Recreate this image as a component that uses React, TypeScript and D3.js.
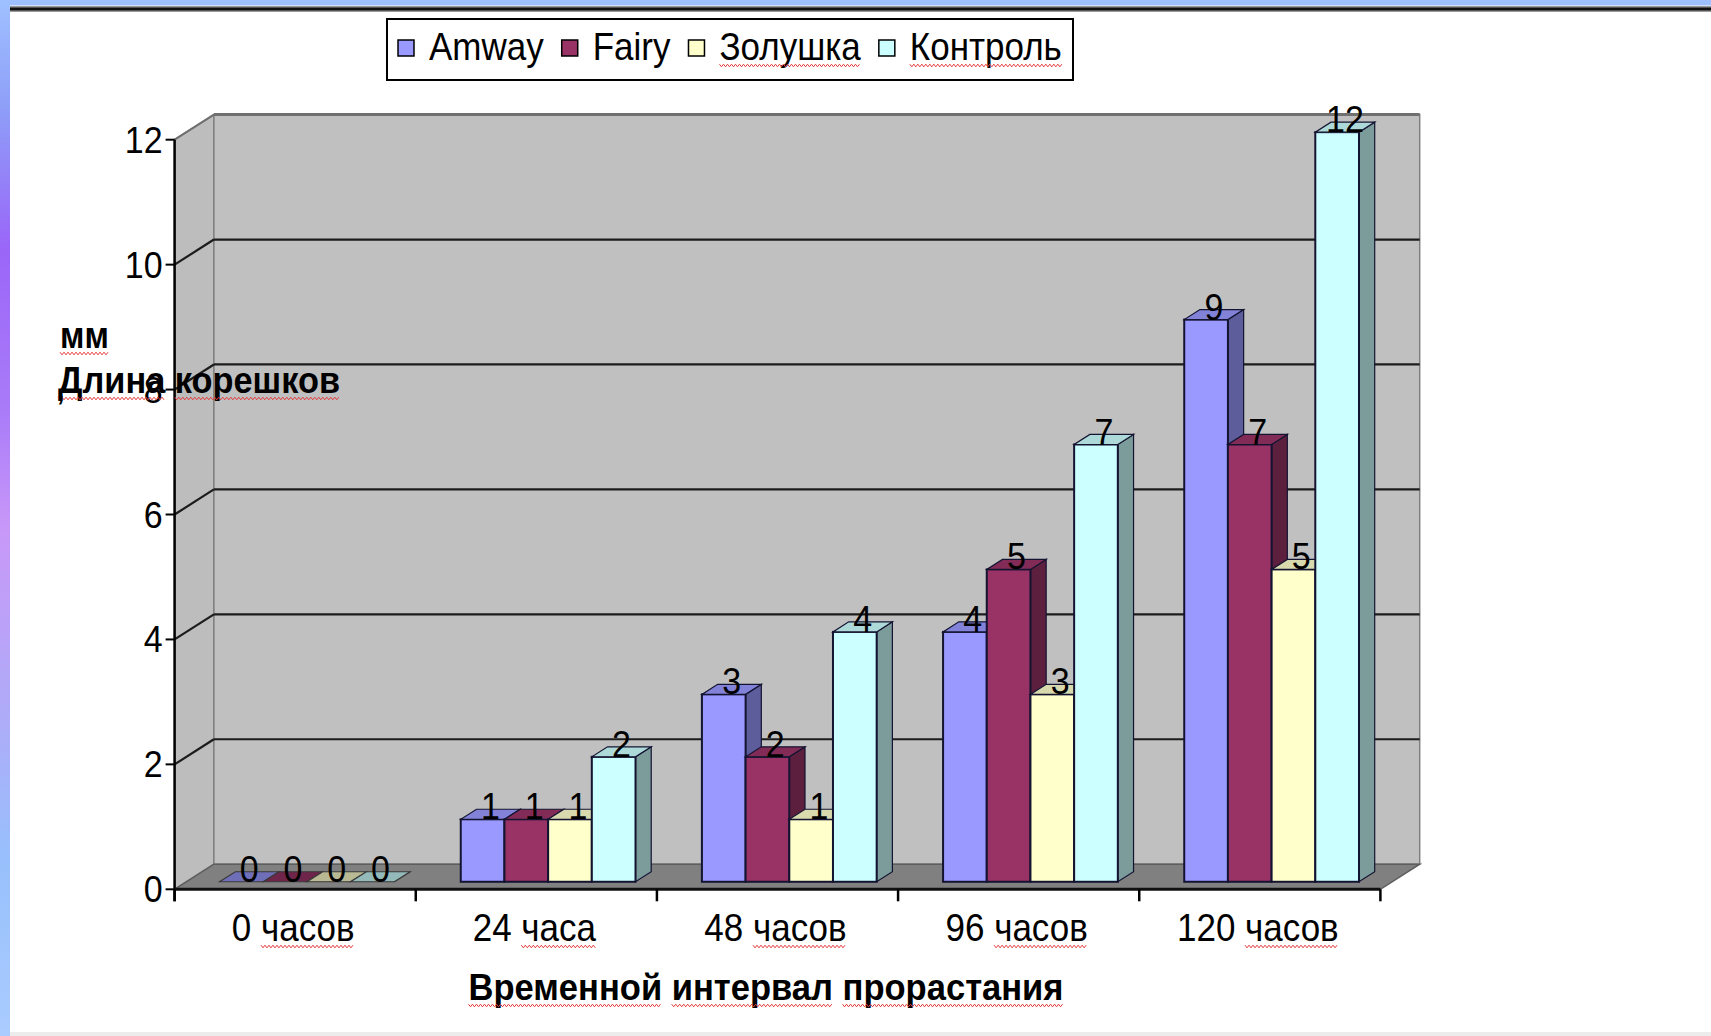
import React, { useEffect, useRef } from 'react';
import * as d3 from 'd3';

// chart values
const categories = ['0 часов', '24 часа', '48 часов', '96 часов', '120 часов'];
const seriesNames = ['Amway', 'Fairy', 'Золушка', 'Контроль'];
const amway = [0, 1, 3, 4, 9];
const fairy = [0, 1, 2, 5, 7];
const zolushka = [0, 1, 1, 3, 5];
const kontrol = [0, 2, 4, 7, 12];
const yTicks = [0, 2, 4, 6, 8, 10, 12];
const seriesColors = ['#9999ff', '#993366', '#ffffcc', '#ccffff'];

const xTitle = 'Временной интервал прорастания';
const yTitleTop = 'мм';
const yTitle = 'Длина корешков';

const W = 1711,
  H = 1036;
const FONT = '"Liberation Sans", Arial, sans-serif';
const SY = 1.1; // text in the picture is a bit taller than Arial

export default function App() {
  const ref = useRef(null);
  useEffect(() => {
    if (ref.current) drawChart(ref.current);
  }, []);
  return (
    <svg
      ref={ref}
      width={W}
      height={H}
      style={{ position: 'absolute', left: 0, top: 0, background: '#fff' }}
    />
  );
}

const squiggle = (g, xa, xb, yy) => {
  const pts = [];
  for (let xx = xa, i = 0; xx <= xb; xx += 2, i++) pts.push([xx, yy + (i % 2 ? 1.3 : -1.3)]);
  g.append('path')
    .attr('d', d3.line()(pts))
    .attr('fill', 'none')
    .attr('stroke', '#e53a3a')
    .attr('stroke-width', 1);
};

const addText = (g, str, x, y, opts: any = {}) => {
  const t = g
    .append('text')
    .attr('transform', `translate(${x},${y}) scale(1,${SY})`)
    .attr('font-family', FONT)
    .attr('font-size', opts.size ?? 34)
    .attr('text-anchor', opts.anchor ?? 'start')
    .attr('fill', '#000')
    .text(str);
  if (opts.weight) t.attr('font-weight', opts.weight);
  if (opts.len) t.attr('textLength', opts.len).attr('lengthAdjust', 'spacingAndGlyphs');
  return t;
};

// red spell-check wave under some words
const underline = (g, t, x, y, words) => {
  const n = t.node();
  const s = n.textContent;
  words.forEach(w => {
    const i = s.indexOf(w);
    if (i < 0) return;
    const xa = x + n.getStartPositionOfChar(i).x;
    const xb = x + n.getEndPositionOfChar(i + w.length - 1).x;
    squiggle(g, xa, xb, y + 5 * SY);
  });
};

const drawChart = node => {
  const svg = d3.select(node);
  svg.selectAll('*').remove();
  const values = [amway, fairy, zolushka, kontrol];

  // page decoration (slide frame)
  const defs = svg.append('defs');
  const grad = defs
    .append('linearGradient')
    .attr('id', 'leftStrip')
    .attr('x1', 0)
    .attr('x2', 0)
    .attr('y1', 0)
    .attr('y2', 1);
  [
    [0, '#a0c0ff'],
    [0.1, '#8ea0f8'],
    [0.24, '#9a66f8'],
    [0.4, '#aa7cf8'],
    [0.51, '#c898f8'],
    [0.68, '#b0aaf8'],
    [0.83, '#98c0fc'],
    [1, '#aaccff']
  ].forEach(([o, c]) => grad.append('stop').attr('offset', o).attr('stop-color', c));
  svg.append('rect').attr('x', 0).attr('y', 0).attr('width', 10).attr('height', H).attr('fill', 'url(#leftStrip)');
  svg.append('rect').attr('x', 0).attr('y', 0).attr('width', W).attr('height', 5.5).attr('fill', '#9ec0ff');
  svg.append('rect').attr('x', 10).attr('y', 6).attr('width', W - 10).attr('height', 6).attr('fill', '#9a9a9a');
  svg.append('rect').attr('x', 10).attr('y', 7.5).attr('width', W - 10).attr('height', 3).attr('fill', '#111');
  svg.append('rect').attr('x', 10).attr('y', 1032).attr('width', W - 10).attr('height', 4).attr('fill', '#ececec');

  // plot geometry
  const left = 174.6,
    right = 1380.4;
  const DX = 39.3,
    DY = 25.1; // depth of the 3d box
  const zF = 0.3,
    zB = 0.7; // bar front / back as fraction of depth

  const xCat = d3.scaleBand().domain(categories).range([left, right]);
  const xSer = d3
    .scaleBand()
    .domain(seriesNames)
    .range([0, xCat.bandwidth()])
    .paddingOuter(0.76);
  const y = d3.scaleLinear().domain([0, 12]).range([889.3, 139.7]);
  const yBase = y(0),
    yTop = y(12);

  const g = svg.append('g');

  // left wall
  g.append('polygon')
    .attr('points', [[left, yBase], [left, yTop], [left + DX, yTop - DY], [left + DX, yBase - DY]].join(' '))
    .attr('fill', '#bdbdbd')
    .attr('stroke', '#808080')
    .attr('stroke-width', 1.5);
  // back wall
  g.append('rect')
    .attr('x', left + DX)
    .attr('y', yTop - DY)
    .attr('width', right - left)
    .attr('height', yBase - yTop)
    .attr('fill', '#c0c0c0')
    .attr('stroke', '#808080')
    .attr('stroke-width', 1.5);
  // floor
  g.append('polygon')
    .attr('points', [[left, yBase], [right, yBase], [right + DX, yBase - DY], [left + DX, yBase - DY]].join(' '))
    .attr('fill', '#808080')
    .attr('stroke', '#5e5e5e')
    .attr('stroke-width', 1.5);

  // gridlines
  yTicks
    .filter(t => t > 0)
    .forEach(t => {
      const top = t === 12;
      const col = top ? '#707070' : '#1c1c1c';
      const sw = top ? 3 : 2.2;
      g.append('line')
        .attr('x1', left + DX)
        .attr('x2', right + DX)
        .attr('y1', y(t) - DY)
        .attr('y2', y(t) - DY)
        .attr('stroke', col)
        .attr('stroke-width', sw);
      g.append('line')
        .attr('x1', left)
        .attr('x2', left + DX)
        .attr('y1', y(t))
        .attr('y2', y(t) - DY)
        .attr('stroke', col)
        .attr('stroke-width', top ? 2 : sw);
    });

  // axes
  g.append('line')
    .attr('x1', left)
    .attr('x2', left)
    .attr('y1', yTop)
    .attr('y2', yBase + 12)
    .attr('stroke', '#000')
    .attr('stroke-width', 2.5);
  yTicks.forEach(t => {
    g.append('line')
      .attr('x1', left - 9)
      .attr('x2', left)
      .attr('y1', y(t))
      .attr('y2', y(t))
      .attr('stroke', '#000')
      .attr('stroke-width', 2);
    addText(g, String(t), left - 12, y(t) + 13, { anchor: 'end' });
  });
  g.append('line')
    .attr('x1', left)
    .attr('x2', right)
    .attr('y1', yBase)
    .attr('y2', yBase)
    .attr('stroke', '#111')
    .attr('stroke-width', 3);
  categories.forEach((c, i) => {
    const xs = xCat(c);
    g.append('line')
      .attr('x1', xs)
      .attr('x2', xs)
      .attr('y1', yBase)
      .attr('y2', yBase + 12)
      .attr('stroke', '#000')
      .attr('stroke-width', 2.5);
    if (i === categories.length - 1)
      g.append('line')
        .attr('x1', right)
        .attr('x2', right)
        .attr('y1', yBase)
        .attr('y2', yBase + 12)
        .attr('stroke', '#000')
        .attr('stroke-width', 2.5);
    const cx = xs + xCat.bandwidth() / 2 - 2;
    const t = addText(g, c, cx, 941, { anchor: 'middle', size: 35 });
    underline(g, t, cx, 941, [c.split(' ')[1]]);
  });

  // bars
  const ddx = (zB - zF) * DX,
    ddy = (zB - zF) * DY;
  const labels = [];
  categories.forEach((c, ci) => {
    seriesNames.forEach((s, si) => {
      const v = values[si][ci];
      const w = xSer.bandwidth();
      const fx = xCat(c) + xSer(s) + zF * DX;
      const ftop = y(v) - zF * DY;
      const fbot = yBase - zF * DY;
      const base = d3.color(seriesColors[si]);
      const outline = v === 0 ? '#3a3a3a' : '#141432';
      g.append('polygon')
        .attr('points', [[fx + w, ftop], [fx + w, fbot], [fx + w + ddx, fbot - ddy], [fx + w + ddx, ftop - ddy]].join(' '))
        .attr('fill', base.darker(1.4))
        .attr('stroke', outline)
        .attr('stroke-width', 1.2);
      if (v > 0)
        g.append('rect')
          .attr('x', fx)
          .attr('y', ftop)
          .attr('width', w)
          .attr('height', fbot - ftop)
          .attr('fill', base)
          .attr('stroke', outline)
          .attr('stroke-width', 2);
      g.append('polygon')
        .attr('points', [[fx, ftop], [fx + w, ftop], [fx + w + ddx, ftop - ddy], [fx + ddx, ftop - ddy]].join(' '))
        .attr('fill', v === 0 ? base.darker(0.9) : base.darker(0.45))
        .attr('stroke', outline)
        .attr('stroke-width', 1.2);
      labels.push([String(v), fx + w / 2 + ddx / 2, ftop]);
    });
  });
  labels.forEach(([txt, lx, ly]) => addText(g, txt, lx, ly, { anchor: 'middle' }));

  // legend
  const lg = svg.append('g');
  lg.append('rect')
    .attr('x', 387)
    .attr('y', 19)
    .attr('width', 686)
    .attr('height', 61)
    .attr('fill', '#fff')
    .attr('stroke', '#000')
    .attr('stroke-width', 2);
  let lx = 398;
  seriesNames.forEach((s, si) => {
    lg.append('rect')
      .attr('x', lx)
      .attr('y', 40)
      .attr('width', 16)
      .attr('height', 16)
      .attr('fill', seriesColors[si])
      .attr('stroke', '#000')
      .attr('stroke-width', 1.5);
    const tx = lx + 31;
    const t = addText(lg, s, tx, 60, { size: 35 });
    if (si >= 2) underline(lg, t, tx, 60, [s]);
    lx = tx + t.node().getComputedTextLength() + 18;
  });

  // axis titles
  const xt = addText(svg, xTitle, 766, 1000, { anchor: 'middle', weight: 'bold', size: 33, len: 595 });
  underline(svg, xt, 766, 1000, xTitle.split(' '));
  const yt1 = addText(svg, yTitleTop, 60, 348, { weight: 'bold', size: 33 });
  underline(svg, yt1, 60, 348, [yTitleTop]);
  const yt2 = addText(svg, yTitle, 58, 393, { weight: 'bold', size: 33, len: 282 });
  underline(svg, yt2, 58, 393, yTitle.split(' '));
  addText(svg, ',', 57, 400, { size: 26, weight: 'bold' });
};
